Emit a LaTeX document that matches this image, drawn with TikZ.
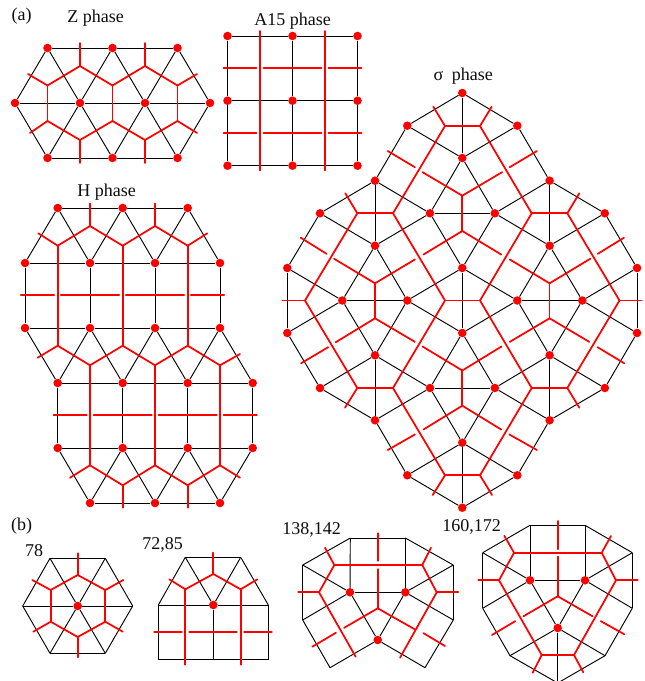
\documentclass[tikz,border=0pt]{standalone}
\usepackage{fontspec}
\setmainfont{Liberation Serif}
\newcommand\mypts[1]{\foreach \n/\x/\y in {#1} \coordinate (\n) at (\x,\y);}
\newcommand\mydots[1]{\foreach \n/\x/\y in {#1} \node[reddot] (\n) at (\x,\y) {};}
\newcommand\blk[1]{\foreach \a/\b in {#1} \draw[blackedge] (\a)--(\b);}
\newcommand\rdl[1]{\foreach \a/\b in {#1} \draw[rededge] (\a)--(\b);}
\newcommand\rdg[1]{\foreach \a/\b in {#1} \draw[rededge,shorten >=0.65pt] (\a)--(\b);}
\newcommand\rdb[1]{\foreach \a/\b in {#1} \draw[rededge,shorten >=0.65pt,shorten <=0.65pt] (\a)--(\b);}
\tikzset{
 reddot/.style={circle,fill=red,inner sep=0pt,minimum size=6.4pt,draw=none},
 blackedge/.style={draw=black,line width=0.7pt},
 rededge/.style={draw=red,line width=1.3pt,line cap=round},
 lbl/.style={font=\fontsize{13.5}{15}\selectfont,text=black!95,inner sep=0pt},
}
\begin{document}
\begin{tikzpicture}[x=0.75pt,y=-0.75pt]
\clip (0,0) rectangle (644,681);
\useasboundingbox (0,0) rectangle (644,681);
% ---------- labels
\node[lbl] (la) at (21.7,15.7) {(a)};
\node[lbl] (lz) at (95.7,18.3) {Z phase};
\node[lbl] (lA) at (292.7,20.7) {A15 phase};
\node[lbl] (lh) at (106.7,192.3) {H phase};
\node[lbl] (ls) at (463.3,76) {σ\hspace{.47em}phase};
\node[lbl] (lb) at (21.7,525.7) {(b)};
\node[lbl] (l1) at (34,550.7) {78};
\node[lbl] (l2) at (162.7,545) {72,85};
\node[lbl] (l3) at (311.5,530) {138,142};
\node[lbl] (l4) at (471.7,527.3) {160,172};
% ---------- Z phase
\mydots{z1/47.5/48,z2/112.5/48,z3/177.5/48,z4/15/103,z5/80/103,z6/145/103,z7/210/103,z8/47.5/158,z9/112.5/158,z10/177.5/158}
\blk{z1/z2,z2/z3,z4/z5,z5/z6,z6/z7,z8/z9,z9/z10,z1/z4,z1/z5,z2/z5,z2/z6,z3/z6,z3/z7,z4/z8,z5/z8,z5/z9,z6/z9,z6/z10,z7/z10}
\mypts{zr1/28/74,zr2/47.5/85.5,zr3/80/66,zr4/112.5/85.5,zr5/145/66,zr6/177.5/85.5,zr7/197/74,zr8/30/133,zr9/47.5/121,zr10/80/140,zr11/112.5/121,zr12/145/140,zr13/177.5/121,zr14/197/133,zs1/80/43,zs2/145/43,zs3/80/163,zs4/145/163}
\rdl{zr1/zr2,zr2/zr3,zr3/zr4,zr4/zr5,zr5/zr6,zr6/zr7,zr8/zr9,zr9/zr10,zr10/zr11,zr11/zr12,zr12/zr13,zr13/zr14,zr2/zr9,zr4/zr11,zr6/zr13,zr3/zs1,zr5/zs2,zr10/zs3,zr12/zs4}
% ---------- A15 phase
\mydots{a1/227.5/36,a2/292.5/36,a3/357.5/36,a4/227.5/100.7,a5/292.5/100.7,a6/357.5/100.7,a7/227.5/165.7,a8/292.5/165.7,a9/357.5/165.7}
\blk{a1/a2,a2/a3,a4/a5,a5/a6,a7/a8,a8/a9,a1/a4,a4/a7,a2/a5,a5/a8,a3/a6,a6/a9}
\mypts{av1/260/31,av2/260/170.5,av3/325/31,av4/325/170.5,ah1/222.7/68.3,ah2/257.3/68.3,ah3/262.7/68.3,ah4/322.3/68.3,ah5/327.7/68.3,ah6/362.3/68.3,aj1/222.7/133.3,aj2/257.3/133.3,aj3/262.7/133.3,aj4/322.3/133.3,aj5/327.7/133.3,aj6/362.3/133.3}
\rdl{av1/av2,av3/av4}
\rdb{ah1/ah2,ah3/ah4,ah5/ah6,aj1/aj2,aj3/aj4,aj5/aj6}
% ---------- H phase
\mydots{h1/57.7/208,h2/122.7/208,h3/187.7/208,h4/25/263,h5/90/263,h6/155/263,h7/220/263,h8/25/328,h9/90/328,h10/155/328,h11/220/328,h12/57.7/383,h13/122.7/383,h14/187.7/383,h15/252.7/383,h16/57.7/448,h17/122.7/448,h18/187.7/448,h19/252.7/448,h20/90/503,h21/155/503,h22/220/503}
\blk{h1/h2,h2/h3,h4/h5,h5/h6,h6/h7,h8/h9,h9/h10,h10/h11,h12/h13,h13/h14,h14/h15,h16/h17,h17/h18,h18/h19,h20/h21,h21/h22,h1/h4,h1/h5,h2/h5,h2/h6,h3/h6,h3/h7,h4/h8,h5/h9,h6/h10,h7/h11,h8/h12,h9/h12,h9/h13,h10/h13,h10/h14,h11/h14,h11/h15,h12/h16,h13/h17,h14/h18,h15/h19,h16/h20,h17/h20,h17/h21,h18/h21,h18/h22,h19/h22}
\mypts{hr1/38.3/233.3,hr2/57.7/245.7,hr3/90/226,hr4/122.7/245.7,hr5/155/226,hr6/187.7/245.7,hr7/207.3/233.3,hs1/90/203.5,hs2/155/203.5,
hq1/37.7/357.7,hq2/57.7/345.7,hq3/90/365.3,hq4/122.7/345.7,hq5/155/365.3,hq6/187.7/345.7,hq7/220/365.3,hq8/240/354,
hp1/70/477.7,hp2/90/465.3,hp3/122.7/485.3,hp4/155/465.3,hp5/187.7/485.3,hp6/220/465.3,hp7/240/477.7,hs3/122.7/507.7,hs4/187.7/507.7,
hm1/20/295.3,hm2/55/295.3,hm3/60/295.3,hm4/120/295.3,hm5/125/295.3,hm6/185/295.3,hm7/190/295.3,hm8/225/295.3,
hn1/52.7/415.3,hn2/87.7/415.3,hn3/92.7/415.3,hn4/152.7/415.3,hn5/157.7/415.3,hn6/217.7/415.3,hn7/222.7/415.3,hn8/257.7/415.3}
\rdl{hr1/hr2,hr2/hr3,hr3/hr4,hr4/hr5,hr5/hr6,hr6/hr7,hr3/hs1,hr5/hs2,hr2/hq2,hr4/hq4,hr6/hq6,hq1/hq2,hq2/hq3,hq3/hq4,hq4/hq5,hq5/hq6,hq6/hq7,hq7/hq8,hq3/hp2,hq5/hp4,hq7/hp6,hp1/hp2,hp2/hp3,hp3/hp4,hp4/hp5,hp5/hp6,hp6/hp7,hp3/hs3,hp5/hs4}
\rdb{hm1/hm2,hm3/hm4,hm5/hm6,hm7/hm8,hn1/hn2,hn3/hn4,hn5/hn6,hn7/hn8}
% ---------- sigma phase
\mydots{T/462.3/93,A1/407.3/125.7,A2/517.3/125.7,C1/462.3/158,B1/375/180.7,B2/549.6/180.7,D1/320/213.3,E1/430/213.3,E2/494.8/213.3,D2/604.8/213.3,F1/375/245.7,F2/549.6/245.7,G1/287.3/268,H/462.3/268,G2/637/268,
J1/342.3/300.5,J2/407.3/300.5,J3/517.3/300.5,J4/582.3/300.5,G3/287.3/333,H2/462.3/333,G4/637/333,F3/375/355.3,F4/549.6/355.3,D3/320/388,E3/430/388,E4/494.8/388,D4/604.8/388,B3/375/420.3,B4/549.6/420.3,C2/462.3/442.7,A3/407.3/475.3,A4/517.3/475.3,Bot/462.3/507.7}
\blk{T/A1,T/A2,T/C1,A1/C1,A2/C1,A1/B1,A2/B2,C1/E1,C1/E2,E1/E2,B1/E1,E2/B2,B1/D1,B2/D2,B1/F1,B2/F2,D1/F1,D2/F2,E1/F1,E2/F2,E1/H,E2/H,D1/G1,D2/G2,F1/J1,F1/J2,H/J2,H/J3,H/H2,G1/J1,G1/G3,G2/J4,G2/G4,J1/J2,J3/J4,F2/J3,F2/J4,J1/G3,J2/H2,J3/H2,J4/G4,J1/F3,J2/F3,J3/F4,J4/F4,G3/D3,G4/D4,F3/D3,F3/E3,F3/B3,F4/E4,F4/D4,F4/B4,H2/E3,H2/E4,E3/E4,D3/B3,D4/B4,E3/B3,E4/B4,E3/C2,E4/C2,B3/A3,B4/A4,A3/C2,A4/C2,C2/Bot,A3/Bot,A4/Bot}
\mypts{ra/445/126,rb/480/126,rat/433.3/106.7,rbt/491.7/106.7,rc/393/213.3,rd/357.3/213.3,rdt/345.3/193.3,re/305/300.5,ret/282.3/300.5,rf/357.3/388,rft/345/407.7,rg/393/388,rh/445/475.3,rht/432.7/495,ri/480/475.3,rit/492/495,rj/531.7/388,rk/567.3/388,rkt/579.3/407.7,rl/619.5/300.5,rlt/641.7/300.5,rm/567.3/213.3,rmt/579.3/193.3,rn/531.7/213.3,ro/445/300.5,rp/480/300.5,
uT/462.3/195.7,uB/462.3/231,u1/421.7/171.7,u2/415.7/167.7,u3/387.7/151,u4/502.9/171.7,u5/508.9/167.7,u6/536.9/151,
v1/422.7/255,v2/415.7/259,lT/375/283.3,v3/502/255,v4/509/259,rT/549.6/283.3,lB/375/318.3,rB/549.6/318.3,
w1/333.3/258.3,w2/327.3/254.3,w3/300.7/237.7,x1/591/258.3,x2/597/254.3,x3/624/237.7,
y1/335/342.7,y2/329/346.7,y3/301/363.3,y4/415.7/342.3,y5/421.7/346,dT/462.3/370.5,dB/462.3/405.7,
k1/502.3/346,k2/509/342.3,k3/590/342.3,k4/596.7/346.7,k5/624.3/363.3,
t1/422.7/430,t2/415.7/434,t3/387.7/450,t4/502/430,t5/508.5/434,t6/536.9/450}
\rdl{ra/rb,ra/rat,rb/rbt,ra/rc,rc/rd,rd/rdt,rd/re,re/ret,re/rf,rf/rft,rf/rg,rg/rh,rh/rht,rh/ri,ri/rit,ri/rj,rj/rk,rk/rkt,rk/rl,rl/rlt,rl/rm,rm/rmt,rm/rn,rn/rb,rc/ro,ro/rg,ro/rp,rp/rj,rp/rn,uT/uB,lT/lB,rT/rB,dT/dB}
\rdg{uT/u1,u3/u2,uT/u4,u6/u5,uB/v1,lT/v2,uB/v3,rT/v4,lT/w1,w3/w2,rT/x1,x3/x2,lB/y1,y3/y2,lB/y4,dT/y5,dT/k1,rB/k2,rB/k3,k5/k4,dB/t1,t3/t2,dB/t4,t6/t5}
% ---------- 78
\mydots{p0/77.7/606}
\mypts{p1/50/558.3,p2/105.3/558.3,p3/132.7/606,p4/105.3/653.3,p5/50/653.3,p6/22.7/606,
pr1/77.7/553.3,pr2/77.7/575,pr3/50.7/590,pr4/105.3/590,pr5/32.3/580,pr6/123.3/580,pr7/50.7/621.7,pr8/105.3/621.7,pr9/33.3/631.7,pr10/122.7/631.7,pr11/77.7/637,pr12/77.7/657.3}
\blk{p1/p2,p2/p3,p3/p4,p4/p5,p5/p6,p6/p1,p1/p0,p2/p0,p3/p0,p4/p0,p5/p0,p6/p0}
\rdl{pr1/pr2,pr2/pr3,pr2/pr4,pr3/pr5,pr4/pr6,pr3/pr7,pr4/pr8,pr7/pr9,pr8/pr10,pr7/pr11,pr8/pr11,pr11/pr12}
% ---------- 72,85
\mydots{q0/213.3/605}
\mypts{q1/185.3/557.3,q2/240.7/557.3,q3/268.3/605,q4/158.3/605,q5/158.3/659.7,q6/213.3/659.7,q7/268.3/659.7,
qr1/213.3/552.7,qr2/213.3/574,qr3/169.3/579.3,qr4/185.3/589.3,qr5/240.7/589.3,qr6/257.3/579.3,qr7/185.3/664.7,qr8/240.7/664.7,
qm1/153.3/632.3,qm2/182.7/632.3,qm3/188.3/632.3,qm4/237.7/632.3,qm5/243.3/632.3,qm6/272.7/632.3}
\blk{q1/q2,q1/q4,q1/q0,q2/q0,q2/q3,q4/q0,q0/q3,q4/q5,q0/q6,q3/q7,q5/q6,q6/q7}
\rdl{qr1/qr2,qr3/qr4,qr4/qr2,qr2/qr5,qr5/qr6,qr4/qr7,qr5/qr8}
\rdb{qm1/qm2,qm3/qm4,qm5/qm6}
% ---------- 138,142
\mydots{m1/350/592.3,m2/405.3/592.3,m3/377.7/640}
\mypts{mo1/302.7/565,mo2/350.3/538,mo3/405.3/538,mo4/453.3/565,mo5/453.3/620,mo6/425/667.7,mo7/330/667.7,mo8/302.7/620,
mr1/377.7/533.3,mr2/377.7/561.7,mr3/377.7/568.3,mr4/377.7/608.3,mr5/334.3/565,mr6/422.3/565,mr7/325/547.7,mr8/431/547.7,mr9/319/592.3,mr10/298.3/592.3,mr11/436.7/592.3,mr12/458.3/592.3,mr13/355.7/656.7,mr14/400/657.7,mr15/343.3/628.3,mr16/336.7/632.3,mr17/312.3/646.7,mr18/416/630,mr19/422.7/632.7,mr20/445/646}
\blk{mo1/mo2,mo2/mo3,mo3/mo4,mo4/mo5,mo5/mo6,mo6/m3,m3/mo7,mo7/mo8,mo8/mo1,mo2/m1,mo3/m2,m1/m2,mo1/m1,mo4/m2,mo8/m1,mo5/m2,m1/m3,m2/m3}
\rdl{mr5/mr6,mr5/mr7,mr6/mr8,mr5/mr9,mr9/mr10,mr6/mr11,mr11/mr12,mr9/mr13,mr11/mr14}
\rdg{mr1/mr2,mr4/mr3,mr4/mr15,mr17/mr16,mr4/mr18,mr20/mr19}
% ---------- 160,172
\mydots{n1/530/580.3,n2/585/580.3,n3/557.7/628}
\mypts{no1/482.7/552.7,no2/530/525.3,no3/585/525.3,no4/632.3/552.7,no5/632.3/608.3,no6/605/655.7,no7/557.7/683,no8/510/655.7,no9/482.7/608.3,
nr1/557.7/521,nr2/557.7/550,nr3/557.7/555.7,nr4/557.7/596.3,nr5/514/552.7,nr6/601.7/552.7,nr7/504.3/535.7,nr8/611/536,nr9/499/580.3,nr10/478.3/580.3,nr11/616/580.3,nr12/637.7/580.3,nr13/541.7/655,nr14/574/655,nr15/532.7/672.7,nr16/583.3/672.3,nr17/522.7/616.7,nr18/516/620.7,nr19/492/635,nr20/593.3/616.7,nr21/600/620.7,nr22/624.3/634.3}
\blk{no1/no2,no2/no3,no3/no4,no4/no5,no5/no6,no6/no7,no7/no8,no8/no9,no9/no1,no2/n1,no3/n2,n1/n2,no1/n1,no4/n2,no9/n1,no5/n2,n1/n3,n2/n3,no8/n3,no6/n3,n3/no7}
\rdl{nr5/nr6,nr5/nr7,nr6/nr8,nr5/nr9,nr9/nr10,nr6/nr11,nr11/nr12,nr9/nr13,nr11/nr14,nr13/nr14,nr13/nr15,nr14/nr16}
\rdg{nr1/nr2,nr4/nr3,nr4/nr17,nr19/nr18,nr4/nr20,nr22/nr21}
\end{tikzpicture}
\end{document}
